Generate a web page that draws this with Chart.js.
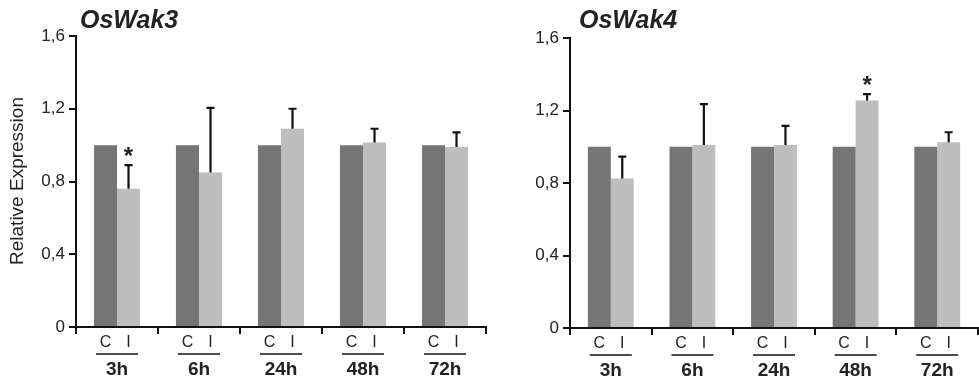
<!DOCTYPE html>
<html>
<head>
<meta charset="utf-8">
<script src="https://cdn.jsdelivr.net/npm/chart.js@4/dist/chart.umd.min.js"></script>
<style>
  html, body { margin: 0; padding: 0; background: #fff; }
  #wrap { position: relative; width: 979px; height: 379px; }
  canvas { position: absolute; top: 0; }
</style>
</head>
<body>
<div id="wrap">
  <canvas id="wak3" width="490" height="379" style="left:0;width:490px;height:379px"></canvas>
  <canvas id="wak4" width="489" height="379" style="left:490px;width:489px;height:379px"></canvas>
</div>
<script>
// data
const timePoints = ['3h', '6h', '24h', '48h', '72h'];
const groupLabels = ['C', 'I'];
const yTicks = [0, 0.4, 0.8, 1.2, 1.6];

const wak3Control = [1, 1, 1, 1, 1];
const wak3Infected = [0.76, 0.85, 1.09, 1.015, 0.99];
const wak3Error = [0.13, 0.355, 0.11, 0.075, 0.08];
const wak3Signif = [true, false, false, false, false];

const wak4Control = [1, 1, 1, 1, 1];
const wak4Infected = [0.825, 1.01, 1.01, 1.255, 1.025];
const wak4Error = [0.12, 0.225, 0.105, 0.035, 0.055];
const wak4Signif = [false, false, false, true, false];

const FONT = '"Liberation Sans", Arial, sans-serif';
const INK = '#222';

// error bars, stars, group labels and titles
const decor = {
    id: 'decor',
    afterDatasetsDraw(chart, args, opts) {
        const ctx = chart.ctx;
        const xs = chart.scales.x, ys = chart.scales.y, area = chart.chartArea;
        const ctrl = chart.getDatasetMeta(0).data;
        const inf = chart.getDatasetMeta(1).data;
        ctx.save();

        ctx.strokeStyle = '#111';
        ctx.lineWidth = 2.2;
        ctx.fillStyle = INK;
        inf.forEach((bar, i) => {
            const top = ys.getPixelForValue(opts.values[i] + opts.errors[i]);
            ctx.beginPath();
            ctx.moveTo(bar.x, bar.y);
            ctx.lineTo(bar.x, top);
            ctx.moveTo(bar.x - 4, top);
            ctx.lineTo(bar.x + 4, top);
            ctx.stroke();
            if (opts.signif[i]) {
                ctx.font = 'bold 24px ' + FONT;
                ctx.textAlign = 'center';
                ctx.textBaseline = 'alphabetic';
                ctx.fillText('*', bar.x, top - 1);
            }
        });

        // C / I under each bar, underline, time point
        ctx.textAlign = 'center';
        ctx.textBaseline = 'middle';
        timePoints.forEach((t, i) => {
            const cx = xs.getPixelForValue(i);
            ctx.font = '16px ' + FONT;
            ctx.fillText(groupLabels[0], ctrl[i].x, area.bottom + 15.5);
            ctx.fillText(groupLabels[1], inf[i].x, area.bottom + 15.5);
            ctx.lineWidth = 1.5;
            ctx.beginPath();
            ctx.moveTo(cx - 21, area.bottom + 27);
            ctx.lineTo(cx + 21, area.bottom + 27);
            ctx.stroke();
            ctx.font = 'bold 19px ' + FONT;
            ctx.fillText(t, cx, area.bottom + 43);
        });

        // panel title
        ctx.textAlign = 'left';
        ctx.textBaseline = 'alphabetic';
        ctx.font = 'italic bold 25px ' + FONT;
        ctx.fillText(opts.title, area.left + opts.titleShift, 28);

        if (opts.yTitle) {
            ctx.translate(18, 181);
            ctx.rotate(-Math.PI / 2);
            ctx.textAlign = 'center';
            ctx.textBaseline = 'middle';
            ctx.font = '19px ' + FONT;
            ctx.fillText(opts.yTitle, 0, 0);
        }
        ctx.restore();
    }
};

function makeConfig(control, infected, errors, signif, title, yTitle, box) {
    return {
        type: 'bar',
        data: {
            labels: timePoints,
            datasets: [
                { label: 'C', data: control, backgroundColor: '#757575', borderWidth: 0 },
                { label: 'I', data: infected, backgroundColor: '#bebebe', borderWidth: 0 },
            ],
        },
        options: {
            responsive: false,
            animation: false,
            layout: { padding: { top: box.top, left: 0, right: box.right, bottom: 0 } },
            datasets: { bar: { categoryPercentage: 0.562, barPercentage: 1.0 } },
            scales: {
                x: {
                    grid: { offset: true, drawOnChartArea: false, drawTicks: true, tickLength: 7, color: '#111', lineWidth: 2 },
                    border: { color: '#111', width: 2 },
                    ticks: { display: false },
                    afterFit: s => { s.height = box.xHeight; },
                },
                y: {
                    min: 0, max: 1.6,
                    afterBuildTicks: s => { s.ticks = yTicks.map(v => ({ value: v })); },
                    ticks: {
                        color: INK, padding: 4,
                        font: { family: FONT, size: 17 },
                        callback: v => v === 0 ? '0' : v.toFixed(1).replace('.', ','),
                    },
                    grid: { drawOnChartArea: false, tickLength: 7, color: '#111', lineWidth: 2 },
                    border: { color: '#111', width: 2 },
                    afterFit: s => { s.width = box.yWidth; },
                },
            },
            plugins: {
                legend: { display: false },
                tooltip: { enabled: false },
                decor: { values: infected, errors: errors, signif: signif, title: title, yTitle: yTitle, titleShift: box.titleShift },
            },
        },
        plugins: [decor],
    };
}

const chart3 = new Chart(document.getElementById('wak3').getContext('2d'),
    makeConfig(wak3Control, wak3Infected, wak3Error, wak3Signif, 'OsWak3', 'Relative Expression',
        { top: 36, right: 4, xHeight: 52, yWidth: 76, titleShift: 4 }));

const chart4 = new Chart(document.getElementById('wak4').getContext('2d'),
    makeConfig(wak4Control, wak4Infected, wak4Error, wak4Signif, 'OsWak4', null,
        { top: 38, right: 1, xHeight: 51, yWidth: 80, titleShift: 9 }));
</script>
</body>
</html>
